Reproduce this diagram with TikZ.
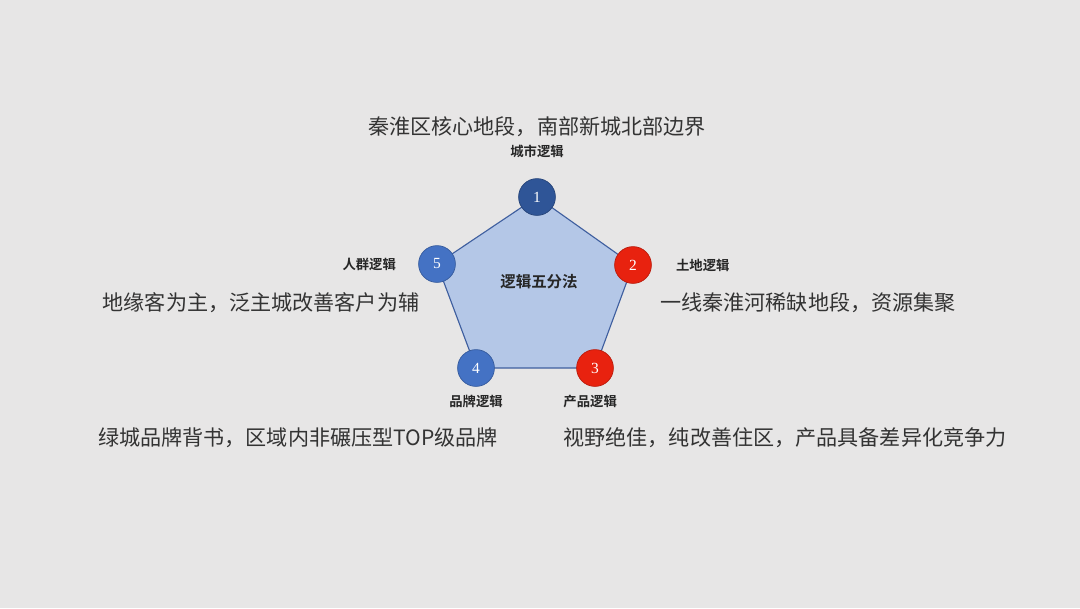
\documentclass[tikz,border=0pt]{standalone}
\usepackage{fontspec}
\setmainfont{Liberation Serif}
\newfontfamily\cjk{Noto Sans CJK SC}[BoldFont={Noto Sans CJK SC Bold}]
\usetikzlibrary{positioning}
\definecolor{bg}{HTML}{E7E6E6}
\definecolor{pentfill}{HTML}{B4C7E7}
\definecolor{pentline}{HTML}{3F5F9F}
\definecolor{navy}{HTML}{2F5597}
\definecolor{mid}{HTML}{4472C4}
\definecolor{hot}{HTML}{E8220F}
\begin{document}
\begin{tikzpicture}[x=0.025cm,y=-0.025cm,
  dot/.style={circle,minimum size=9.2mm,inner sep=0pt,draw=#1!80!black,
              line width=0.5pt,fill=#1,text=white,font=\fontsize{11pt}{13pt}\selectfont},
  tag/.style={inner sep=0pt,text=black!85,font=\cjk\bfseries\fontsize{9.5pt}{11pt}\selectfont},
  big/.style={inner sep=0pt,text=black!80,font=\cjk\fontsize{15pt}{18pt}\selectfont},
  edge/.style={pentline,line width=0.8pt}]
\useasboundingbox[fill=bg] (0,0) rectangle (1080,608);
% pentagon
\coordinate (p1) at (537,197);
\coordinate (p2) at (633,265);
\coordinate (p3) at (595,368);
\coordinate (p4) at (476,368);
\coordinate (p5) at (437,264);
\fill[pentfill] (p1)--(p2)--(p3)--(p4)--(p5)--cycle;
\draw[edge] (p1)--(p2)--(p3)--(p4)--(p5)--cycle;
\node[tag,font=\cjk\bfseries\fontsize{11pt}{13pt}\selectfont] (core) at (539,282) {逻辑五分法};
% vertices
\node[dot=navy] (c1) at (p1) {1};
\node[dot=hot] (c2) at (p2) {2};
\node[dot=hot] (c3) at (p3) {3};
\node[dot=mid] (c4) at (p4) {4};
\node[dot=mid] (c5) at (p5) {5};
% small tags
\node[tag,above=5mm of c1] (lcity) {城市逻辑};
\node[tag,right=6mm of c2] (lland) {土地逻辑};
\node[tag,below=2mm of c3,xshift=-1.2mm] (lprod) {产品逻辑};
\node[tag,below=2mm of c4] (lbrand) {品牌逻辑};
\node[tag,left=5.5mm of c5] (lpeople) {人群逻辑};
% descriptions
\node[big,above=2mm of lcity] (tcity) {秦淮区核心地段，南部新城北部边界};
\node[big] (tland) at (808,303) {一线秦淮河稀缺地段，资源集聚};
\node[big] (tpeople) at (261,303) {地缘客为主，泛主城改善客户为辅};
\node[big] (tbrand) at (298,438) {绿城品牌背书，区域内非碾压型TOP级品牌};
\node[big] (tprod) at (785,438) {视野绝佳，纯改善住区，产品具备差异化竞争力};
\end{tikzpicture}
\end{document}
